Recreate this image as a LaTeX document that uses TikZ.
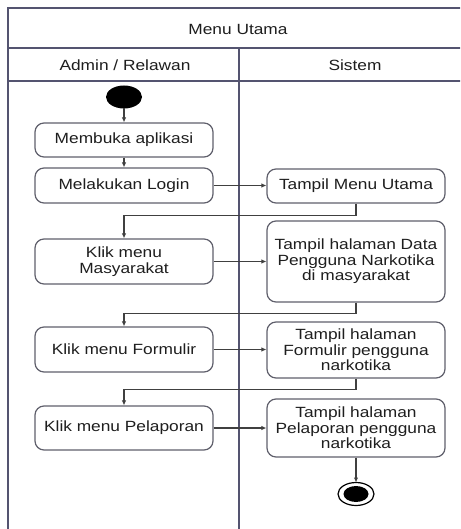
\documentclass[tikz,border=0pt]{standalone}
\usepackage{fontspec}
\setmainfont{Liberation Sans}
\newfontfamily\lanefont[FakeStretch=1.17]{Liberation Sans}
\usetikzlibrary{arrows.meta}
\definecolor{framecol}{RGB}{84,84,112}
\definecolor{boxcol}{RGB}{96,96,108}
\definecolor{txtcol}{RGB}{30,30,30}
\tikzset{
  lanetext/.style={font=\lanefont\fontsize{14.8}{15.5}\selectfont, text=txtcol},
  activity/.style={draw=boxcol, line width=1.2pt, rounded corners=9pt, fill=white,
    minimum width=178pt, align=center, inner sep=0pt,
    font=\lanefont\fontsize{14.8}{15.5}\selectfont, text=txtcol},
  flow/.style={draw=black!75, line width=1.1pt, -{Latex[length=5pt,width=4.5pt]}},
  frameline/.style={draw=framecol, line width=1.4pt}
}
\begin{document}
\begin{tikzpicture}[x=1pt,y=-1pt]
\useasboundingbox (0,0) rectangle (460,529);
\fill[white] (0,0) rectangle (460,529);
\begin{scope}
\clip (0,0) rectangle (460,529);
% swimlane frame
\draw[frameline] (8,540) -- (8,8) -- (470,8);
\draw[frameline] (8,48) -- (470,48);
\draw[frameline] (8,81) -- (470,81);
\draw[frameline] (239,48) -- (239,540);
\end{scope}
\node[lanetext] (title) at (238,29) {Menu Utama};
\node[lanetext] (laneA) at (125,65) {Admin / Relawan};
\node[lanetext] (laneB) at (355,65) {Sistem};

% start and end states
\fill[black] (124,97) ellipse [x radius=18, y radius=11.5];
\coordinate (start) at (124,108.5);
\node[activity, minimum height=34pt] (membuka) at (124,140) {Membuka aplikasi};
\node[activity, minimum height=35pt] (login) at (124,185.5) {Melakukan Login};
\node[activity, minimum height=34pt] (tmenu) at (356,186) {Tampil Menu Utama};
\node[activity, minimum height=45pt] (masy) at (124,261.5) {Klik menu\\Masyarakat};
\node[activity, minimum height=81pt] (tdata) at (356,261.5) {Tampil halaman Data\\Pengguna Narkotika\\di masyarakat};
\node[activity, minimum height=45pt] (form) at (124,349.5) {Klik menu Formulir};
\node[activity, minimum height=56pt] (tform) at (356,350) {Tampil halaman\\Formulir pengguna\\narkotika};
\node[activity, minimum height=44pt] (pelap) at (124,428) {Klik menu Pelaporan};
\node[activity, minimum height=58pt] (tpelap) at (356,428) {Tampil halaman\\Pelaporan pengguna\\narkotika};

\draw[black, line width=1.2pt, fill=white] (356,494) ellipse [x radius=18, y radius=11.5];
\fill[black] (356,494) ellipse [x radius=12.5, y radius=8];
\coordinate (endtop) at (356,482.5);

% control flow
\draw[flow] (start) -- (membuka.north);
\draw[flow] (membuka.south) -- (login.north);
\draw[flow] (login.east) -- (tmenu.west |- login.east);
\draw[flow] (tmenu.south) -- ++(0,12) -| (masy.north);
\draw[flow] (masy.east) -- (tdata.west |- masy.east);
\draw[flow] (tdata.south) -- ++(0,11) -| (form.north);
\draw[flow] (form.east) -- (tform.west |- form.east);
\draw[flow] (tform.south) -- ++(0,11) -| (pelap.north);
\draw[flow] (pelap.east) -- (tpelap.west |- pelap.east);
\draw[flow] (tpelap.south) -- (endtop);
\end{tikzpicture}
\end{document}
